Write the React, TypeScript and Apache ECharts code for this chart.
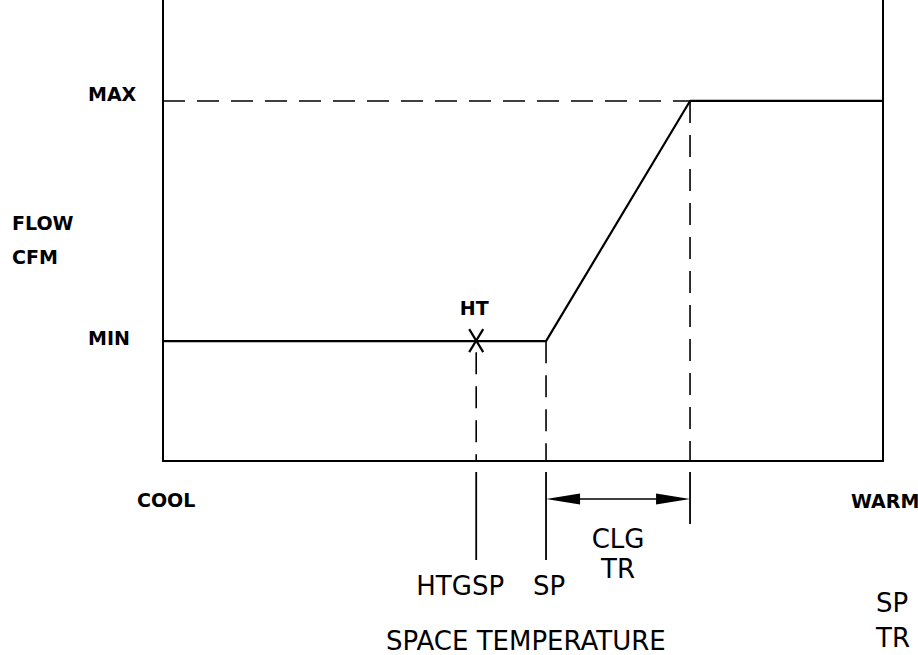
import React, { useEffect, useRef } from "react";
import * as echarts from "echarts";

// Space-temperature scale (0 = COOL edge, 100 = WARM edge)
const tempPoints = ["COOL", "HTGSP", "SP", "SP + CLG TR", "WARM"];
const tempValues = [0, 43.5, 53.2, 73.2, 100];
// Flow scale (0 = bottom of plot, 100 = top)
const flowLevels = ["MIN", "MAX"];
const flowLevelValues = [26, 78.1];
// Flow schedule polyline
const scheduleX = [0, 53.2, 73.2, 100];
const scheduleY = [26, 26, 78.1, 78.1];
// Dashed MAX reference line
const maxRefX = [0, 73.2];
const maxRefY = [78.1, 78.1];

const FONT = '"DejaVu Sans", "Noto Sans", sans-serif';
const INK = "#000";

export default function App() {
  const ref = useRef<HTMLDivElement>(null);
  useEffect(() => {
    document.body.style.margin = "0";
    if (!ref.current) return;
    const chart = echarts.init(ref.current, null, { renderer: "svg" });
    const HTGSP = tempValues[1];
    const SP = tempValues[2];
    const CLG = tempValues[3];
    const MIN = flowLevelValues[0];
    const MAX = flowLevelValues[1];

    const renderItem = (params: any, api: any) => {
      const c = (x: number, y: number) => api.coord([x, y]);
      const ht = c(HTGSP, MIN);
      const htBase = c(HTGSP, 0);
      const spTop = c(SP, MIN);
      const spBase = c(SP, 0);
      const clgTop = c(CLG, MAX);
      const clgBase = c(CLG, 0);
      const minL = c(0, MIN);
      const maxL = c(0, MAX);
      const dash = { stroke: INK, lineWidth: 1.6, lineDash: [22, 12] };
      const solid = { stroke: INK, lineWidth: 1.8 };
      const ay = spBase[1] + 38;
      const aLen = 34;
      const aHalf = 5.5;
      const big = { fontFamily: FONT, fontSize: 26, fill: INK, align: "center", verticalAlign: "middle" };
      const bold = { fontFamily: FONT, fontSize: 19, fontWeight: "bold", fill: INK, verticalAlign: "middle" };
      const children: any[] = [
        // dashed verticals
        { type: "line", shape: { x1: ht[0], y1: ht[1] + 11, x2: htBase[0], y2: htBase[1] }, style: dash },
        { type: "line", shape: { x1: spTop[0], y1: spTop[1], x2: spBase[0], y2: spBase[1] }, style: dash },
        { type: "line", shape: { x1: clgTop[0], y1: clgTop[1], x2: clgBase[0], y2: clgBase[1] }, style: dash },
        // extension lines below the axis
        { type: "line", shape: { x1: htBase[0], y1: htBase[1] + 11, x2: htBase[0], y2: htBase[1] + 99 }, style: solid },
        { type: "line", shape: { x1: spBase[0], y1: spBase[1] + 11, x2: spBase[0], y2: spBase[1] + 99 }, style: solid },
        { type: "line", shape: { x1: clgBase[0], y1: clgBase[1] + 11, x2: clgBase[0], y2: clgBase[1] + 63 }, style: solid },
        // dimension line with arrowheads
        { type: "line", shape: { x1: spBase[0] + aLen, y1: ay, x2: clgBase[0] - aLen, y2: ay }, style: { stroke: INK, lineWidth: 1.5 } },
        { type: "polygon", shape: { points: [[spBase[0], ay], [spBase[0] + aLen, ay - aHalf], [spBase[0] + aLen, ay + aHalf]] }, style: { fill: INK } },
        { type: "polygon", shape: { points: [[clgBase[0], ay], [clgBase[0] - aLen, ay - aHalf], [clgBase[0] - aLen, ay + aHalf]] }, style: { fill: INK } },
        // HT marker
        { type: "line", shape: { x1: ht[0] - 7, y1: ht[1] - 12, x2: ht[0] + 7, y2: ht[1] + 11 }, style: { stroke: INK, lineWidth: 2.2 } },
        { type: "line", shape: { x1: ht[0] + 7, y1: ht[1] - 12, x2: ht[0] - 7, y2: ht[1] + 11 }, style: { stroke: INK, lineWidth: 2.2 } },
        // labels tied to data
        { type: "text", style: { ...bold, text: "HT", x: ht[0] - 2, y: ht[1] - 33, align: "center" } },
        { type: "text", style: { ...bold, text: flowLevels[1], x: maxL[0] - 75, y: maxL[1] - 7, align: "left" } },
        { type: "text", style: { ...bold, text: flowLevels[0], x: minL[0] - 75, y: minL[1] - 3, align: "left" } },
        { type: "text", style: { ...big, text: "HTGSP", x: htBase[0] - 16, y: htBase[1] + 125 } },
        { type: "text", style: { ...big, text: "SP", x: spBase[0] + 3, y: spBase[1] + 125 } },
        { type: "text", style: { ...big, text: "CLG", x: (spBase[0] + clgBase[0]) / 2, y: spBase[1] + 78 } },
        { type: "text", style: { ...big, text: "TR", x: (spBase[0] + clgBase[0]) / 2, y: spBase[1] + 108 } },
      ];
      return { type: "group", children };
    };

    const boldText = (text: string, x: number, y: number) => ({
      type: "text",
      left: x,
      top: y,
      style: { text, fontFamily: FONT, fontSize: 19, fontWeight: "bold", fill: INK },
    });
    const bigText = (text: string, x: number, y: number) => ({
      type: "text",
      left: x,
      top: y,
      style: { text, fontFamily: FONT, fontSize: 26, fill: INK },
    });

    chart.setOption({
      animation: false,
      backgroundColor: "#fff",
      grid: { left: 163, right: 35, top: 0, bottom: 194, containLabel: false },
      xAxis: {
        type: "value",
        min: 0,
        max: 100,
        axisLine: { show: true, onZero: false, lineStyle: { color: INK, width: 2 } },
        axisTick: { show: false },
        axisLabel: { show: false },
        splitLine: { show: false },
      },
      yAxis: [
        {
          type: "value",
          min: 0,
          max: 100,
          position: "left",
          axisLine: { show: true, onZero: false, lineStyle: { color: INK, width: 2 } },
          axisTick: { show: false },
          axisLabel: { show: false },
          splitLine: { show: false },
        },
        {
          type: "value",
          min: 0,
          max: 100,
          position: "right",
          axisLine: { show: true, onZero: false, lineStyle: { color: INK, width: 2 } },
          axisTick: { show: false },
          axisLabel: { show: false },
          splitLine: { show: false },
        },
      ],
      series: [
        {
          type: "line",
          name: "MAX reference",
          data: maxRefX.map((x, i) => [x, maxRefY[i]]),
          symbol: "none",
          lineStyle: { color: INK, width: 1.6, type: [22, 12] },
          silent: true,
        },
        {
          type: "line",
          name: "Flow",
          data: scheduleX.map((x, i) => [x, scheduleY[i]]),
          symbol: "none",
          lineStyle: { color: INK, width: 2.2 },
          silent: true,
          z: 3,
        },
        {
          type: "custom",
          name: "annotations",
          data: [[tempValues[0], 0]],
          renderItem,
          clip: false,
          silent: true,
          z: 4,
        },
      ],
      graphic: [
        boldText("FLOW", 12, 213),
        boldText("CFM", 12, 247),
        boldText(tempPoints[0], 137, 490),
        boldText(tempPoints[4], 851, 491),
        bigText("SPACE TEMPERATURE", 386, 628),
        bigText("SP", 876, 590),
        bigText("TR", 876, 625),
      ],
    });
    return () => chart.dispose();
  }, []);
  return <div ref={ref} style={{ width: 918, height: 655 }} />;
}
